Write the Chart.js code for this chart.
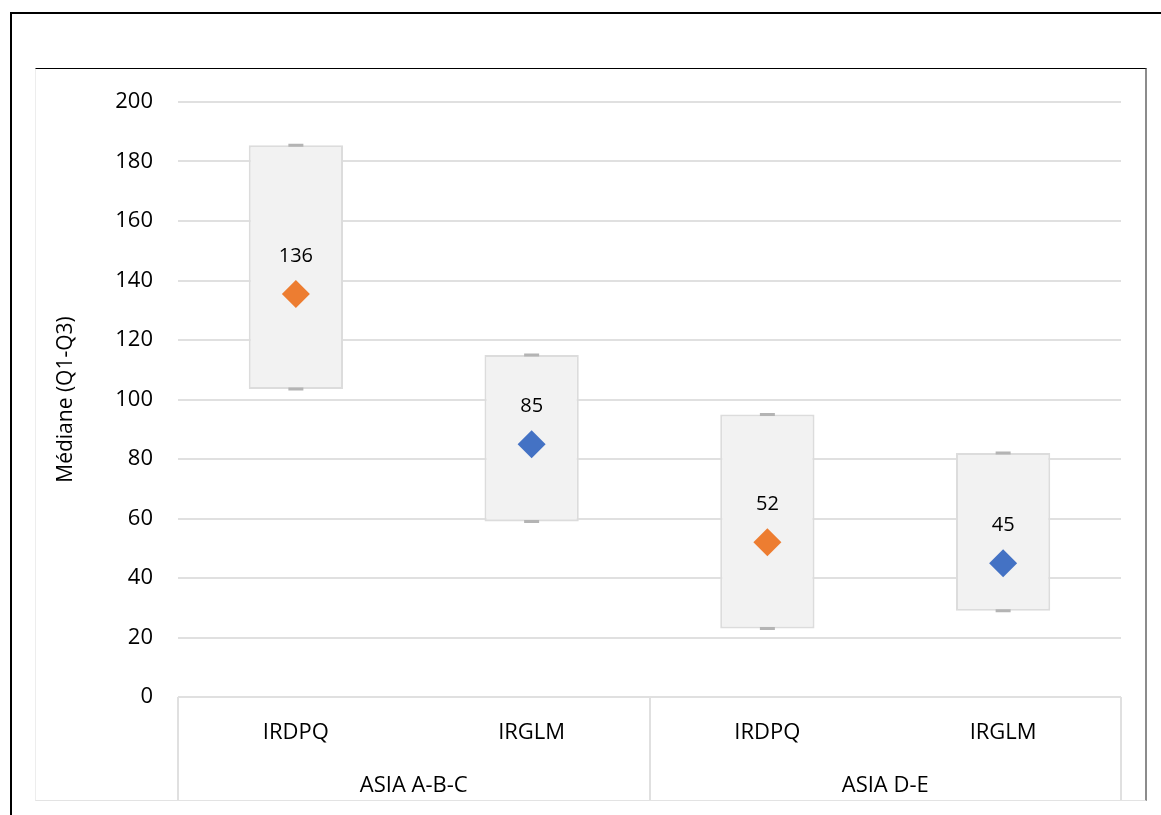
<!DOCTYPE html>
<html>
<head>
<meta charset="utf-8">
<script src="https://cdn.jsdelivr.net/npm/chart.js@4.4.1/dist/chart.umd.min.js"></script>
<style>
    html, body { margin: 0; padding: 0; background: #fff; overflow: hidden; }
    #frame {
        position: absolute; left: 10px; top: 12px; width: 1300px; height: 900px;
        border-left: 2px solid #000; border-top: 2px solid #000;
    }
    #box {
        position: absolute; left: 35px; top: 68px; width: 1109px; height: 731px;
        border-top: 1px solid #000; border-right: 2px solid #8c8c8c;
        border-bottom: 1px solid #e3e3e3; border-left: 1px solid #ededed;
    }
    #box canvas { display: block; }
</style>
</head>
<body>
<div id="frame"></div>
<div id="box"><canvas id="chart" width="1109" height="731"></canvas></div>
<script>
// categories
const labels = ['IRDPQ', 'IRGLM', 'IRDPQ', 'IRGLM'];
const groups = ['ASIA A-B-C', 'ASIA D-E'];

// quartiles and medians
const q1 = [103.5, 59, 23, 29];
const q3 = [185.5, 115, 95, 82];
const medians = [135.5, 85, 52, 45];
const markerColors = ['#ED7D31', '#4472C4', '#ED7D31', '#4472C4'];

const font = '"Open Sans", sans-serif';

// value labels above the diamonds
const medianLabels = {
    id: 'medianLabels',
    afterDatasetsDraw(chart) {
        const ctx = chart.ctx;
        const meta = chart.getDatasetMeta(3);
        ctx.save();
        ctx.font = '20px ' + font;
        ctx.fillStyle = '#000';
        ctx.textAlign = 'center';
        ctx.textBaseline = 'middle';
        meta.data.forEach((pt, i) => {
            ctx.fillText(Math.round(medians[i]), pt.x, pt.y - 38);
        });
        ctx.restore();
    }
};

// group separators in the category area
const groupLines = {
    id: 'groupLines',
    afterDraw(chart) {
        const ctx = chart.ctx;
        const x = chart.scales.x;
        const area = chart.chartArea;
        const step = (x.right - x.left) / labels.length;
        ctx.save();
        ctx.strokeStyle = '#e0e0e0';
        ctx.lineWidth = 2;
        [0, 2, 4].forEach(i => {
            const px = Math.round(x.left + i * step);
            ctx.beginPath();
            ctx.moveTo(px, area.bottom);
            ctx.lineTo(px, chart.height);
            ctx.stroke();
        });
        ctx.restore();
    }
};

const ctx = document.getElementById('chart').getContext('2d');
new Chart(ctx, {
    data: {
        labels: labels,
        datasets: [{
            type: 'bar',
            label: 'Q1-Q3',
            xAxisID: 'x',
            data: q1.map((v, i) => [v, q3[i]]),
            backgroundColor: '#f2f2f2',
            borderColor: '#dcdcdc',
            borderWidth: 2,
            borderSkipped: false,
            barPercentage: 0.4,
            categoryPercentage: 1,
            order: 4
        }, {
            type: 'line',
            label: 'Q3',
            xAxisID: 'x',
            data: q3,
            showLine: false,
            pointStyle: 'line',
            pointRadius: 7.5,
            pointBorderWidth: 3,
            pointBorderColor: '#b4b4b4',
            order: 3
        }, {
            type: 'line',
            label: 'Q1',
            xAxisID: 'x',
            data: q1,
            showLine: false,
            pointStyle: 'line',
            pointRadius: 7.5,
            pointBorderWidth: 3,
            pointBorderColor: '#b4b4b4',
            order: 2
        }, {
            type: 'line',
            label: 'Médiane',
            xAxisID: 'x',
            data: medians,
            showLine: false,
            pointStyle: 'rectRot',
            pointRadius: 14,
            pointBorderWidth: 0,
            pointBackgroundColor: markerColors,
            order: 1
        }]
    },
    options: {
        responsive: false,
        animation: false,
        devicePixelRatio: 1,
        layout: { padding: { top: 33, right: 24, left: 0, bottom: 0 } },
        plugins: {
            legend: { display: false },
            tooltip: { enabled: false }
        },
        scales: {
            y: {
                min: 0,
                max: 200,
                afterFit: s => { s.width = 142; },
                ticks: { stepSize: 20, padding: 3, color: '#000', font: { family: font, size: 22 } },
                grid: { color: '#e0e0e0', lineWidth: 2, drawTicks: true, tickLength: 22, tickColor: 'rgba(0,0,0,0)' },
                border: { display: false },
                title: {
                    display: true,
                    text: 'Médiane (Q1-Q3)',
                    color: '#000',
                    font: { family: font, size: 21 },
                    padding: { top: 17, bottom: 0 }
                }
            },
            x: {
                type: 'category',
                position: 'bottom',
                weight: 0,
                afterFit: s => { s.height = 60; },
                ticks: { padding: 23, maxRotation: 0, color: '#000', font: { family: font, size: 22 } },
                grid: { display: false, drawTicks: false },
                border: { display: false }
            },
            x2: {
                type: 'category',
                position: 'bottom',
                weight: 1,
                labels: groups,
                offset: true,
                afterFit: s => { s.height = 43; },
                ticks: { padding: 16, maxRotation: 0, color: '#000', font: { family: font, size: 22 } },
                grid: { display: false, drawTicks: false },
                border: { display: false }
            }
        }
    },
    plugins: [medianLabels, groupLines]
});
</script>
</body>
</html>
